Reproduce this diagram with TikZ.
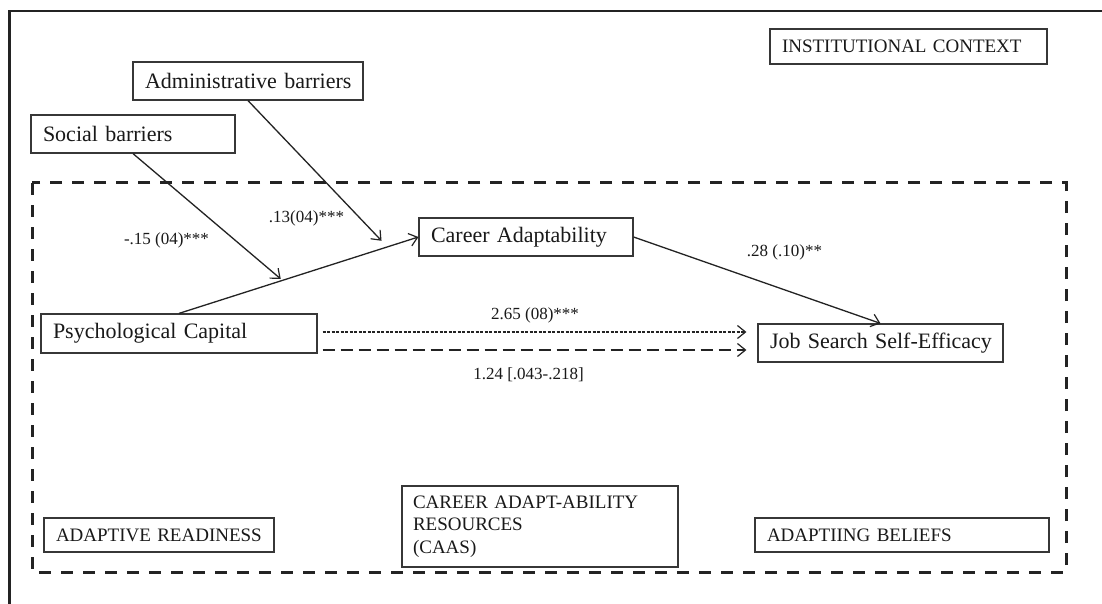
\documentclass[tikz,border=0pt]{standalone}
\usepackage{fontspec}
\setmainfont{Liberation Serif}
\usetikzlibrary{arrows.meta,calc}
\definecolor{boxc}{RGB}{55,55,55}
\definecolor{linec}{RGB}{35,35,35}
\definecolor{txtc}{RGB}{25,25,25}
\begin{document}
\begin{tikzpicture}[x=1pt,y=-1pt,
  box/.style={draw=boxc, line width=1.2pt, inner xsep=12pt, inner ysep=0pt, align=left, anchor=center, text=txtc},
  big/.style={font=\fontsize{22}{26}\selectfont},
  caps/.style={font=\fontsize{19}{22.5}\selectfont},
  lab/.style={font=\fontsize{17}{20}\selectfont, inner sep=0pt, text=txtc},
  arr/.style={draw=linec, line width=1.3pt, -{Straight Barb[length=8pt,width=13pt,line width=1.2pt]}},
  fine/.style={dash pattern=on 3pt off 1.5pt},
  longdash/.style={dash pattern=on 12pt off 6pt}
]
\useasboundingbox (0,0) rectangle (1102,604);
\fill[white] (0,0) rectangle (1102,604);
% outer frame (top and left visible)
\draw[linec, line width=2.8pt] (9.5,604) -- (9.5,11) -- (1102,11);
% dashed inner frame
\draw[linec, line width=3pt, dash pattern=on 12pt off 10pt] (32,183) rectangle (1066,572);

% boxes
\node[box,big,minimum width=230pt,minimum height=38pt,text width=206pt] (admin) at (248,81) {\mbox{Administrative barriers}};
\node[box,big,minimum width=204pt,minimum height=38pt,text width=180pt] (social) at (133,134) {\mbox{Social barriers}};
\node[box,caps,minimum width=277pt,minimum height=35pt,text width=253pt] (inst) at (908.5,46.5) {\mbox{INSTITUTIONAL CONTEXT}};
\node[box,big,minimum width=214pt,minimum height=38pt,text width=190pt] (ca) at (526,237) {\mbox{Career Adaptability}};
\node[box,big,minimum width=276pt,minimum height=39pt,text width=252pt] (psy) at (179,333.5) {\mbox{Psychological Capital}};
\node[box,big,minimum width=245pt,minimum height=38pt,text width=221pt] (jsse) at (880.5,343) {\mbox{Job Search Self-Efficacy}};
\node[box,caps,minimum width=230pt,minimum height=34pt,text width=206pt] (ar) at (159,535) {\mbox{ADAPTIVE READINESS}};
\node[box,caps,inner xsep=11pt,minimum width=276pt,minimum height=81pt,text width=254pt] (caas) at (540,526.5) {CAREER ADAPT-ABILITY\\RESOURCES\\(CAAS)};
\node[box,caps,minimum width=294pt,minimum height=34pt,text width=270pt] (ab) at (902,535) {\mbox{ADAPTIING BELIEFS}};

% main paths
\draw[arr] (psy.north) -- (ca.west);
\draw[arr] (ca.east) -- (jsse.north);
\coordinate (sbend) at ($(psy.north)!0.425!(ca.west)+(0,-2)$);
\coordinate (abend) at ($(psy.north)!0.846!(ca.west)+(0,-8)$);
\draw[arr] (social.south) -- (sbend);
\draw[arr] (admin.south) -- (abend);

% direct effects
\coordinate (d1s) at ([xshift=5pt,yshift=1.5pt]psy.east);
\coordinate (d2s) at ([xshift=5pt,yshift=-16.5pt]psy.east);
\draw[arr,fine,shorten >=11pt] (d1s) -- (d1s -| jsse.west);
\draw[arr,longdash,shorten >=11pt] (d2s) -- (d2s -| jsse.west);

% labels
\node[lab] (l1) at (166.5,240) {-.15 (04)***};
\node[lab] (l2) at (306.5,218) {.13(04)***};
\node[lab] (l3) at (784.5,252) {.28 (.10)**};
\node[lab] (l4) at (535,315) {2.65 (08)***};
\node[lab] (l5) at (528.5,375) {1.24 [.043-.218]};
\end{tikzpicture}
\end{document}
